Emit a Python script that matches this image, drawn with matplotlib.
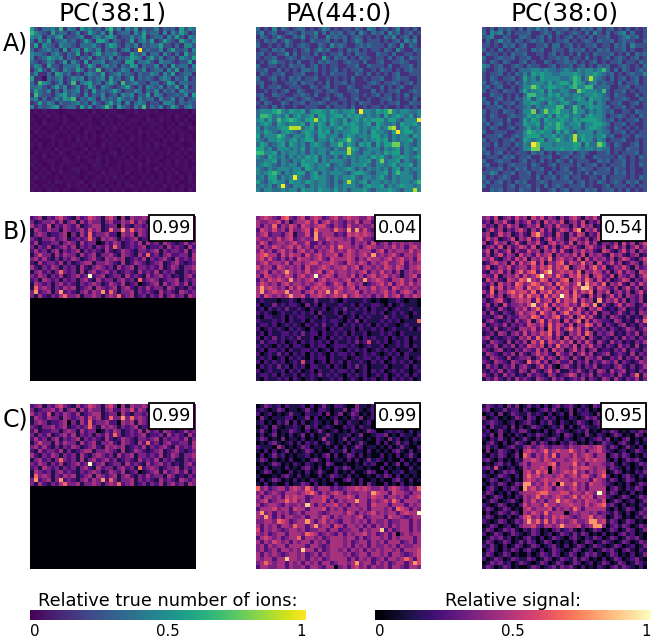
import numpy as np
import matplotlib
matplotlib.use("Agg")
import matplotlib.pyplot as plt
from matplotlib.cm import ScalarMappable
from matplotlib.colors import Normalize
from matplotlib.patches import Rectangle

# Ion images, 40x40 pixels, one digit per pixel on a 0-9 intensity scale
ions_pc381 = """
5213342614 3153423146 2414251322 4132315243
6432152331 2412532415 1233142523 3141425312
4341324512 2341134245 3122423512 3314252143
3142512342 3125315531 3212513425 1253215324
2514321433 2133342135 4213241323 3522131442
3123423151 3415324132 3134129232 2413522314
4332134213 2512135233 4211532413 3142131523
4123543413 2132412324 1323543135 2412314325
3212431251 4215133412 3215513342 1433212251
2431522133 3412531342 3132541322 4131523314
1352142143 2531326123 1243132412 3314251323
2411315423 1213432512 3423213224 3142512331
5110323412 4341323415 2312513232 1343132412
3164312412 6134523135 3162342213 3125413322
3342135241 2412531432 1235213143 2413251412
2532413142 3413152323 5312243132 4132314322
1632213452 3214132412 3143413251 4312232415
3413124254 6132431423 2532314233 1422413123
1252431322 3423142135 2414134312 2144313232
4132345123 3152412363 1532142613 2412531342
"""

ions_pc381_low = """
1213121012 2112031212 2102131221 2012211203
1021312120 1210212031 1321012120 1212031021
2102012131 0212201212 0121221032 1312021201
1203121021 2031210312 1202110212 2101203120
2120210302 1201212021 3120212012 1202121032
0312012120 2103120121 2012103121 2120312101
2021231012 1212021302 1210212021 1302102120
1201021212 0312120121 2021312012 1021203121
2130120201 2120210312 1212012120 3120121012
1021203122 1013021202 1031202121 2012102132
0212120310 2120212012 3012101212 0212031201
2103012121 0312102120 2120302121 1201212021
1201221032 1201213021 0212121031 2012031212
3120120212 1021032120 1202103120 1212021201
0212031201 2312012102 1201212021 3021201212
2021201312 1201210312 2103012120 1202130121
1312012021 2102012121 3120210212 0212102031
2011203212 1230121021 0212012131 2102120121
1202120103 1212031202 1202312012 1031202112
2120312021 0121202130 2120120212 1210212031
"""

ions_pa440 = """
3121413212 3312124312 1221321431 2312412131
2412311232 1322413132 3123142132 3142312312
1321242113 2412311423 2312321212 1324123131
2132312421 1213222312 1312431222 1212314241
3112121321 2321132142 3211232322 2132141321
1221323112 1231242311 2132312122 1321421132
2312122413 1221312122 3121322113 2213112212
2122311232 1322115213 2312132212 2131231322
1213422121 3112132322 1232213112 3112232112
3112212132 2312312122 1122311322 2131122312
2231131212 1332312123 1212231121 3221212322
1321223112 2311212132 2211321312 1212311222
3112312132 3122311212 1213112122 3112322112
2311211223 1322121312 2312111232 1223212312
1312231122 2113212312 1132112211 3121231122
1121212311 3211221232 1122311131 2122311232
2311322112 2321311212 3112212123 1221213122
1321121232 1232112311 2212311211 2231212131
2132113212 2312232122 1212132211 2122311322
1221312112 1122211312 2213112122 1211212121
3444564354 4524554354 3445294435 4574344334
3665343524 5345255345 5354543434 2534543524
4535364565 4355845354 3524535455 5355324449
3454254344 4525354254 3545434525 4334254453
4243345588 8345254434 5345534345 3478245334
4354324543 2454354524 3445534254 4325945534
5244465324 4354255344 2454344355 3424344254
4324454345 3455244353 4574324345 4524344524
3542345254 3424543244 6354254525 3557734324
5534244434 3524344324 3385423444 2434524354
6644524344 3424344254 4484324434 3545524324
4325434243 4354524324 2434344354 5324454345
3344524324 3544524344 4324344524 7344524324
3454324344 2554344523 4324445324 4345344524
4324344434 4254344324 3454242434 3424524344
4345642434 5524524344 4324554324 4524644324
3425524349 4324544324 3445324434 5324344424
5324544254 4354344324 2484345244 3434344346
3434249324 4424344324 3444324544 5243454434
4244334344 2544354435 3424445324 4454324484
"""

ions_pc380 = """
2131323213 1324231322 3121323131 2312131212
3143413122 2311232132 1232131421 3123413112
2341132113 3212313121 2312213122 3112342312
1312423132 1232312122 3121232132 2312322113
2212132312 3112231331 2312122312 2132314222
3121312132 2132311322 1322312132 3122312112
1322121322 3112212312 1213121322 2312131323
3112322312 2311212232 3122131212 3123212312
2132132112 3121132122 3231212312 1223122132
4312311232 1322112312 2312312132 3112321213
3112321213 3344343323 4324344346 3131321232
2122312132 4254544334 4454344543 2312123224
2132122312 5342544443 3465248432 1312312312
3123212132 4344435345 5365424423 2213122312
2312311212 4475345544 3564466233 3112231222
3122132213 5344525334 4227544436 2122312122
1132212121 3664435453 4344344543 2132211312
3112312132 4524544345 3345425443 3122321132
2313122312 4454325434 5324445243 1223112312
1222312122 3424344466 2364245443 3122312112
3122132212 4472474564 4364424343 2311221322
2132112322 3545435254 5344245443 1223212132
3122213112 5354254445 4354555543 2312122312
2312312122 5445245465 3445244554 3122312112
2132112312 3534254465 4344245543 2132121212
3112221122 4654544253 5324444243 3122312122
1222311232 4555344534 3484544345 2311221322
3122122312 5434524464 3483544243 1222311212
2213122132 4397444344 4455253375 2132112312
3112221212 4477244445 4454344343 3122132212
2312312122 2132312132 2312321122 3121222312
1222132312 2311223112 3122311322 2213212132
3112322112 3121312132 1312221132 3122312122
2311212322 2132112312 2213122312 1222312132
1222312132 3122311212 3112322122 3132212112
2243122312 2312213122 2312131322 2132312112
3121232112 2213122312 3122112213 1222212132
2312312132 3112321222 2312312132 1232132312
3122212312 2312131232 1222312112 3122212122
1132312213 2213112312 3122132312 2312131212
"""

signal_pc381 = """
2341324532 1423543145 3041433430 3333333333
3123342413 4142433134 2243524314 3333333333
4232513243 2412344123 3042133232 3333333333
1432433143 2342534126 3373634324 3333333333
1343122340 3142623342 2043414322 3333333333
3213342341 2323631434 3132341224 3333333333
2412233134 3142330132 4312324142 3143212423
3132412342 4132313242 6312323412 2314232142
2423134132 3413232142 1243213323 4132332413
1353314243 3142341334 2143214262 3134223314
3424213132 4312342143 4341232413 2342142324
2142332413 1234413343 2141243212 3412342123
4213243132 3142134323 1423413323 2412431334
1342313632 3141342342 3123214232 4132311323
3243132412 3423923412 3314232142 3423121342
2314323132 3134214233 1342316234 3123341323
1432313423 2132343124 3241230123 4142342413
1634313243 4123414323 4134213242 3314312132
3723413723 2134243726 3133413232 1423214323
3142132463 3413343134 3623412313 2413423143
"""

signal_pa440_mix = """
3454325632 4524542345 3454433534 3433333333
4334452413 4453524534 3243524424 3433333333
4243624354 2543455324 3253343342 3433333333
2543534253 3452644436 4373735324 3433333333
3452332451 3352734442 3254545433 3433333333
4334353452 3433733544 4342453325 3433333333
3542344345 3352242343 4442434252 3424343433
4243543453 5342434353 6443424543 3435342453
3534245342 4534243453 4354344424 5243443534
4564425354 4253453445 2454345373 4345324435
4535324242 5443453254 4454243544 3453453425
3453443524 4345534454 3254354243 4533452434
5344254343 4253345434 4534524434 3543542445
3452434743 4353452453 4434345243 5342413434
4254343542 4534934542 4435242453 4534313452
2435454373 4345245344 3452437345 4324453424
3543424534 4343454235 4254341234 5352453534
4745434253 5424545434 5345244353 4425434343
4734544734 4245354736 4344524343 4534245424
4254343474 4524454345 4634543424 3534524354
1211101121 0211311121 0211112101 0011210110
2011312122 1031202111 2112021122 1020121110
1202121311 2102112012 1311212021 1201211211
2121012112 1212031112 0212112121 2012121021
1022112021 2211202111 2012021211 1312112011
2111212021 1202112122 1021302111 2121201116
1221201212 1021213112 0212121202 1211012111
2012121021 2102112021 2112021121 2012111202
1202112212 1312202112 1202112011 2121021111
2021312121 3112012021 2121202121 1202112021
1312212012 0212121202 1121312512 1201212011
2121021202 2102122012 2212101211 2011212021
1202212021 1221201202 1021212012 1212011201
2012131202 1202121021 2212012121 0121202111
1212012021 2102122021 1201212212 1202112012
2021212012 1512012021 2021121021 2012121201
0212131202 1202211202 1021312011 1201112021
2012112021 2012021121 2212012021 2012121012
1221202112 0212131212 1021212012 1201212021
1021121202 1012101121 2012102120 1202121201
"""

signal_pc380_mix = """
3425134253 4153524314 2453143524 3143342433
2314352142 3524153435 1342513241 3452134322
4231425341 2435134253 3142534125 3241352314
1352413245 3142524135 4257143524 1425314243
3412534124 2157423153 1425413252 4135241323
2534123514 3524135243 1453241352 4125341243
4125341352 1435214534 2514352413 3241524135
1342514235 4251352413 5342145324 1352413524
3514235142 2534143525 2143534215 4213524143
2413524315 3425345143 4352514342 1534213412
4352134253 5143536245 3425152434 2413542135
1245341525 3462514356 2543634152 3524124314
3512435234 4253546354 6134524635 1243531423
2143524146 3562468345 4536143542 4135243154
4325134352 5346945364 2546351453 2514324135
1534215436 5843652435 6145364252 4123541324
3241534265 3465345264 5347274536 1435214253
2163524355 2645734526 4354885254 3241352413
4261435645 5362546354 5263546143 5134241352
1352413546 3645263549 5364215241 3524143241
3124521345 4526345263 5462534172 4352413241
2413152334 3583462534 5342653714 2135243124
1321421243 5246354153 4625314352 1213412132
3142132135 3452643524 6345242513 3124213143
2213413224 4365243562 3514635213 1432131214
1342123142 3514625341 5246152432 2143121426
4123241323 2543526354 2514365241 3213412132
2314123214 4352416352 4635241323 1321243124
1231431342 5243546253 1435264132 3412132413
3412123214 3526345241 5243514213 2131423132
2143214132 4153625435 3514253142 1423121324
1324132413 2543514263 4251435231 3214231412
3213412132 4325241534 1352413412 2132413213
1432132414 2135342153 2413524123 4123214132
2143214123 3413524314 3142143241 1324132413
3214321432 1635241342 2413241324 3241321243
1423132413 4213524103 4213132412 2134213124
2132413214 3142135241 1324213143 1423412132
4213142312 1423214312 3541324132 2314213614
1324213142 3214321423 1232413214 3142132413
"""

signal_pa440_corr = """
0132120211 1202013102 2100311020 1121011111
1210132011 0131022101 1302310121 1101211111
2012010131 1021120301 3013201021 1211011111
0310111220 1130201012 0102130120 1121111111
1201021302 0201210103 1021101201 0132111211
0120310112 1031201210 0212021102 1021201302
1310201132 1020131012 0102101320 0121210201
0201301020 1302011310 1120130012 2301021102
1320103011 0201014110 1302110102 1031201021
0102310120 2021201310 1020131002 0201312010
2111042010 1320110102 0201320110 1020131002
1020201302 0132010021 1302110201 0102310201
0201312010 1120102302 0132020100 2010201310
1320101020 0102310201 1020201312 1010020102
0101320102 1021010320 0100102120 0201302010
1020110201 0231020102 1320110100 2010100201
0132010020 1020131002 0102001320 0201120110
1000102310 2010020132 1020100102 1320201010
0201320102 0102101020 0231020010 1002310201
1020100201 1320201002 0001020310 0201020100
6342344245 4364244423 2344545433 4245432436
3423432444 3456424345 4243344375 4425443244
4244342545 4423445424 4454244354 4244342445
3452344645 3424445242 4344744243 4536424443
4234432433 4384243445 3424344254 4424442434
2444534425 4424445243 4244434244 4342654243
4734243423 4244432344 4354243453 4344245449
4374242443 3424435424 3443452344 4254432344
3344365423 4474245343 2443434243 3423344243
4243424436 4424734425 4244342424 3424344243
5243432344 3423344244 2334424344 8242344243
4342344244 4365423432 4243445342 3424034344
2454342344 6244342344 4344242344 3424344424
4243543424 3442434244 4342344243 4244423424
3424344244 4424432344 4342434243 3434243344
3423424434 3844242344 3424342434 3443424445
4243432344 3423424344 4342344244 3424432345
4344244844 3424342344 4424243423 4244346425
3464344243 4243424423 4434734424 3423442475
2443344243 3424432440 3424534243 3424432443
"""

signal_pc380_corr = """
1321203130 1312020231 2310210321 1101111111
2301131220 2101231310 1302120101 1211111111
0120301321 1312102012 0301221031 1311011111
3012010132 0320131201 0210132311 1201111111
1232101201 2310213102 1013210230 1311111111
2031120302 0132101213 0201321120 1201031320
1201310213 3101020132 1012130102 1320102132
2130301021 0213210120 3201031021 0132010320
1021310201 3102012310 2101201231 3010230102
0231020132 1031320102 1320102013 2102310201
1312012311 3423432333 2433443453 1320131020
0301321020 4543463454 4643424453 2101201321
1021320130 6424353624 4353454244 0231320102
2310201021 4454354344 3454354544 1020132310
0102312013 4244445624 4463424443 2310210132
2315101201 4344540534 4354554344 1321020102
1020132310 4536450434 5463424345 0132010213
2101321020 4645344345 3453553246 2010231021
0132012010 4543454454 4344442543 1320132010
1021320132 7734353507 4463425443 2101020132
0231021320 7453454244 3453424444 0231021320
1320102013 4445664445 5344354394 1320102010
2013201021 4346343454 3463545244 2101320132
0132012310 4353424474 5434354435 0132012013
2101320102 5344364434 4544353456 2310201021
1320132010 4534445243 4364244444 1020132013
0201321320 4354363444 0343443423 2131020132
1320102013 5634243545 4323446343 0132010213
2101320132 4746363534 3453347745 1320132010
0132012013 4453244347 4445234773 0231320132
1320132310 2132010231 2310201320 1320132013
2013201321 0132012013 2131320102 0102312010
0132312010 2310201321 0231021320 1320132310
1320132013 1320132010 1020132013 2101320132
2131020132 0132012310 2013201321 0132012013
0231021320 2310201321 0132012013 2310231021
1320132010 0201321320 1320132310 1320102013
2013201321 1320132013 2131320102 0132012310
0132312013 2101320132 0132012013 2013201321
1320132010 0132012313 2310201021 0231321020
"""

titles = ["PC(38:1)", "PA(44:0)", "PC(38:0)"]
row_labels = ["A)", "B)", "C)"]
scores_b = ["0.99", "0.04", "0.54"]
scores_c = ["0.99", "0.99", "0.95"]


def read_grid(text):
    rows = [line.replace(" ", "") for line in text.strip().splitlines()]
    # digit 0 is a dim pixel rather than a truly empty one
    return (np.array([[int(c) for c in r] for r in rows]) + 0.3) / 9.3


def read_low(text):
    # faint half of an image, digits span a much narrower range
    rows = [line.replace(" ", "") for line in text.strip().splitlines()]
    return 0.015 + np.array([[int(c) for c in r] for r in rows]) * 0.016


pc381_ions = np.vstack([read_grid(ions_pc381), read_low(ions_pc381_low)])
# the lower half of this one has next to no signal
pc381_signal = np.vstack([read_grid(signal_pc381), np.full((20, 40), 0.015)])

W, H = 651, 638
panel_x = [30, 256, 482]
panel_y = [27, 216, 404]
size = 165

images = [
    [pc381_ions, read_grid(ions_pa440), read_grid(ions_pc380)],
    [pc381_signal, read_grid(signal_pa440_mix), read_grid(signal_pc380_mix)],
    [pc381_signal, read_grid(signal_pa440_corr), read_grid(signal_pc380_corr)],
]
cmaps = ["viridis", "magma", "magma"]
scores = [None, scores_b, scores_c]

fig = plt.figure(figsize=(W / 100, H / 100), dpi=100)


def make_axes(x, y, w, h):
    return fig.add_axes([x / W, 1 - (y + h) / H, w / W, h / H])


for r in range(3):
    for c in range(3):
        ax = make_axes(panel_x[c], panel_y[r], size, size)
        ax.imshow(images[r][c], cmap=cmaps[r], vmin=0, vmax=1,
                  interpolation="nearest", aspect="auto")
        ax.axis("off")
        if r == 0:
            ax.set_title(titles[c], fontsize=18, pad=5)
        if scores[r] is not None:
            # score box sits in the top right corner, poking just over the edge
            ax.add_patch(Rectangle((0.721, 0.85), 0.273, 0.157, transform=ax.transAxes,
                                   fc="white", ec="black", lw=1.3, clip_on=False, zorder=3))
            ax.text(0.8575, 0.928, scores[r][c], transform=ax.transAxes,
                    ha="center", va="center", fontsize=12.8, zorder=4)
    fig.text(3 / W, 1 - (panel_y[r] + 16) / H, row_labels[r], fontsize=17,
             ha="left", va="center")

# Shared colour scales along the bottom edge
bars = [(30, 276, "viridis", "Relative true number of ions:"),
        (375, 276, "magma", "Relative signal:")]
for x, w, cmap, label in bars:
    cax = make_axes(x, 610, w, 10)
    cb = fig.colorbar(ScalarMappable(Normalize(0, 1), cmap=cmap), cax=cax,
                      orientation="horizontal")
    cb.outline.set_visible(False)
    cb.set_ticks([0, 0.5, 1])
    cb.set_ticklabels(["0", "0.5", "1"])
    cax.tick_params(length=0, labelsize=10.8, pad=3)
    ticks = cax.get_xticklabels()
    ticks[0].set_ha("left")
    ticks[2].set_ha("right")
    cax.set_title(label, fontsize=12.8, pad=2)

fig.savefig("out.png", dpi=100)
